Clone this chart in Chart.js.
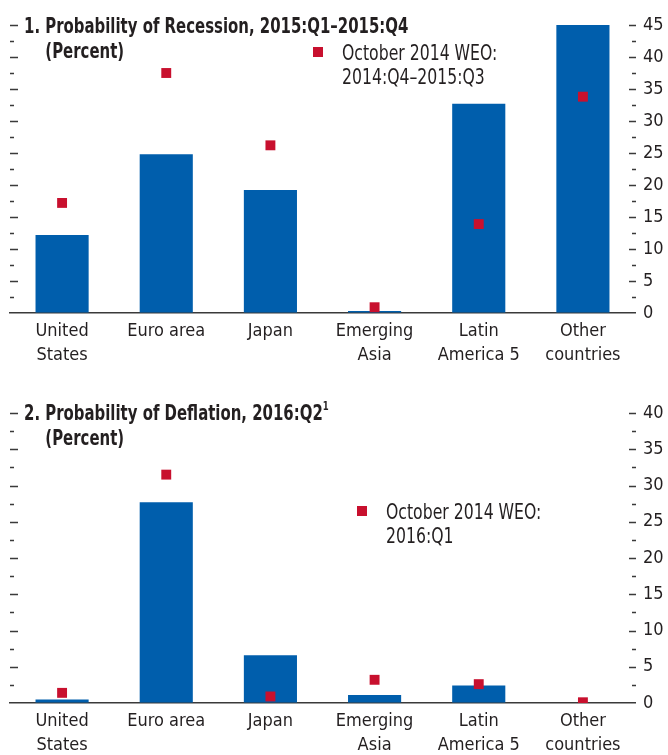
<!DOCTYPE html>
<html>
<head>
<meta charset="utf-8">
<script src="https://cdn.jsdelivr.net/npm/chart.js@4.4.1/dist/chart.umd.min.js"></script>
<style>
  body { margin: 0; background: #fff; }
  #wrap { position: relative; width: 668px; height: 755px; overflow: hidden;
          font-family: "Liberation Sans Narrow", "Arial Narrow", "DejaVu Sans Condensed", sans-serif; color: #231f20; }
  canvas { position: absolute; left: 0; display: block; }
  .title { position: absolute; font-weight: bold; font-size: 21px; line-height: 25px; white-space: nowrap;
           transform: scaleX(0.79); transform-origin: 0 0; }
  .title sup { font-size: 12px; line-height: 0; position: relative; top: -2px; }
  .legend { position: absolute; font-size: 21px; line-height: 24px; white-space: nowrap;
            transform: scaleX(0.83); transform-origin: 0 0; }
  .swatch { position: absolute; width: 10px; height: 10px; background: #c8102e; }
</style>
</head>
<body>
<div id="wrap">
  <canvas id="recessionChart" width="668" height="380" style="top:0"></canvas>
  <canvas id="deflationChart" width="668" height="375" style="top:380px"></canvas>

  <div class="title" style="left:24px; top:14px">1. Probability of Recession, 2015:Q1–2015:Q4<br><span style="margin-left:27px">(Percent)</span></div>
  <div class="swatch" style="left:313px; top:47px"></div>
  <div class="legend" style="left:342px; top:41px">October 2014 WEO:<br>2014:Q4–2015:Q3</div>

  <div class="title" style="left:24px; top:401px">2. Probability of Deflation, 2016:Q2<sup>1</sup><br><span style="margin-left:27px">(Percent)</span></div>
  <div class="swatch" style="left:357px; top:506px"></div>
  <div class="legend" style="left:386px; top:500px">October 2014 WEO:<br>2016:Q1</div>
</div>

<script>
// Data
const categories = [['United', 'States'], 'Euro area', 'Japan', ['Emerging', 'Asia'], ['Latin', 'America 5'], ['Other', 'countries']];
const recessionBars = [12.2, 24.8, 19.2, 0.3, 32.7, 45];
const recessionPrev = [17.2, 37.5, 26.2, 0.9, 13.9, 33.8];
const deflationBars = [0.5, 27.7, 6.6, 1.1, 2.4, 0];
const deflationPrev = [1.4, 31.5, 0.9, 3.2, 2.6, 0.1];
const recessionTicks = [0, 5, 10, 15, 20, 25, 30, 35, 40, 45];
const deflationTicks = [0, 5, 10, 15, 20, 25, 30, 35, 40];

const FONT = '"Liberation Sans Narrow", "Arial Narrow", "DejaVu Sans Condensed", sans-serif';
const BLUE = '#005eac';
const RED = '#c8102e';
const INK = '#231f20';

Chart.defaults.font.family = FONT;
Chart.defaults.color = INK;

// small tick marks on both sides (major every 5, minor every 2.5)
const sideTicks = {
  id: 'sideTicks',
  afterDraw(chart) {
    const ctx = chart.ctx;
    const y = chart.scales.y;
    const area = chart.chartArea;
    ctx.save();
    ctx.strokeStyle = '#3a3a3a';
    ctx.lineWidth = 1.3;
    for (let v = y.min; v <= y.max + 0.01; v += 2.5) {
      if (v === 0) continue;
      const py = Math.round(y.getPixelForValue(v)) + 0.5;
      const major = v % 5 === 0;
      ctx.beginPath();
      ctx.moveTo(area.left, py);
      ctx.lineTo(area.left + (major ? 8 : 4), py);
      ctx.moveTo(area.right + 1, py);
      ctx.lineTo(area.right - (major ? 6 : 3), py);
      ctx.stroke();
    }
    ctx.restore();
  }
};

function makeChart(id, bars, prev, ticks, topPad, xHeight) {
  const ctx = document.getElementById(id).getContext('2d');
  return new Chart(ctx, {
    type: 'bar',
    data: {
      labels: categories,
      datasets: [{
        type: 'line',
        label: 'October 2014 WEO',
        data: prev,
        showLine: false,
        pointStyle: 'rect',
        pointRadius: 7,
        pointHoverRadius: 7,
        pointBackgroundColor: RED,
        pointBorderWidth: 0,
        order: 0
      }, {
        label: 'Current',
        data: bars,
        backgroundColor: BLUE,
        categoryPercentage: 0.51,
        barPercentage: 1,
        order: 1
      }]
    },
    options: {
      responsive: false,
      animation: false,
      layout: { padding: { left: 10, top: topPad, right: 0, bottom: 0 } },
      plugins: {
        legend: { display: false },
        tooltip: { enabled: false }
      },
      scales: {
        x: {
          grid: { display: false, drawTicks: false },
          border: { display: true, color: '#3a3a3a', width: 1.5 },
          ticks: { font: { size: 18, lineHeight: 1.35 }, color: INK, padding: 6, maxRotation: 0, autoSkip: false },
          afterFit: s => { s.height = xHeight; }
        },
        y: {
          position: 'right',
          min: ticks[0],
          max: ticks[ticks.length - 1],
          afterBuildTicks: s => { s.ticks = ticks.map(v => ({ value: v })); },
          grid: { drawOnChartArea: false, drawTicks: false },
          border: { display: false },
          ticks: { font: { size: 18 }, color: INK, padding: 8 },
          afterFit: s => { s.width = 33; }
        }
      }
    },
    plugins: [sideTicks]
  });
}

makeChart('recessionChart', recessionBars, recessionPrev, recessionTicks, 25, 67);
makeChart('deflationChart', deflationBars, deflationPrev, deflationTicks, 33, 52);
</script>
</body>
</html>
